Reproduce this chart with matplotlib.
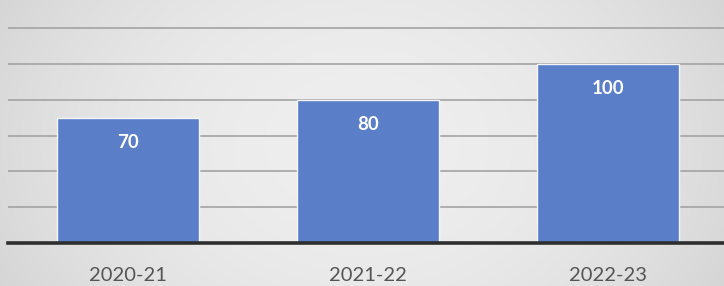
import numpy as np
import matplotlib
matplotlib.use("Agg")
import matplotlib.pyplot as plt

categories = ["2020-21", "2021-22", "2022-23"]
values = [70, 80, 100]
grid_ticks = [20, 40, 60, 80, 100, 120]

W, H = 724, 286
fig = plt.figure(figsize=(W / 100, H / 100), dpi=100)

# gradient background
bg = fig.add_axes([0, 0, 1, 1], zorder=0)
xx, yy = np.meshgrid(np.linspace(-1, 1, 400), np.linspace(-1, 1, 200))
r = np.sqrt((xx * 0.95) ** 2 + (yy * 0.5) ** 2)
shade = 0.935 - 0.085 * np.clip(r, 0, 1.3) ** 2
img = np.dstack([shade, shade, shade])
bg.imshow(img, aspect="auto", extent=[0, 1, 0, 1], origin="lower")
bg.set_axis_off()

x0 = 8 / W
ax_bottom = (H - 243) / H
ax = fig.add_axes([x0, ax_bottom, 1 - x0, 1 - ax_bottom], zorder=1)
ax.patch.set_alpha(0)

xpos = np.arange(len(categories))
bars = ax.bar(xpos, values, width=0.59, color="#5a7ec8", edgecolor="#f4f6fb",
              linewidth=1.0, zorder=3)
ax.set_xlim(-0.5, 2.483)
ax.set_ylim(0, 135.7)
ax.set_yticks(grid_ticks)
ax.yaxis.grid(True, color="#a3a3a3", linewidth=1.2, zorder=1)
ax.tick_params(axis="y", left=False, labelleft=False)
ax.tick_params(axis="x", bottom=False, pad=13.5, labelsize=14.5, labelcolor="#555555")
ax.set_xticks(xpos)
ax.set_xticklabels(categories, family=["Lato", "DejaVu Sans"])
for s in ["top", "right", "left"]:
    ax.spines[s].set_visible(False)
ax.spines["bottom"].set_color("#2e2e2e")
ax.spines["bottom"].set_linewidth(2.6)
ax.spines["bottom"].set_zorder(4)

for xi, v in zip(xpos, values):
    ax.annotate(str(v), (xi, v), xytext=(0, -25), textcoords="offset pixels",
                ha="center", va="center", color="white", fontsize=13.5,
                fontweight="bold", family=["Lato", "DejaVu Sans"], zorder=5)

fig.savefig("out.png", dpi=100)
